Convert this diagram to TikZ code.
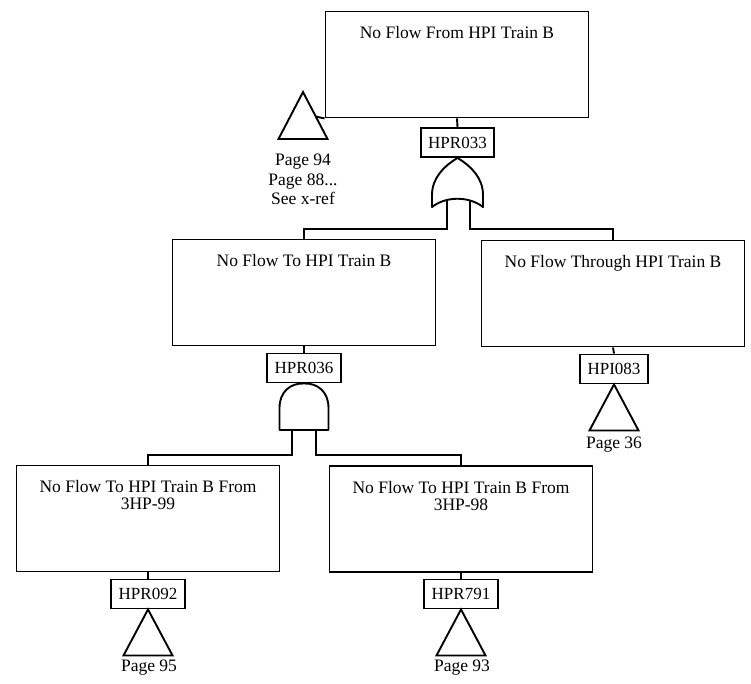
\documentclass[tikz,border=0pt]{standalone}
\usepackage{fontspec}
\setmainfont{Liberation Serif}
\usetikzlibrary{positioning}
\tikzset{
    % event boxes - text sits at the top
    event/.style={
        rectangle,
        draw=black,
        line width=1.9pt,
        minimum width=263pt,
        minimum height=106pt,
        inner sep=0pt
    },
    evtext/.style={
        anchor=north,
        yshift=-16pt,
        inner sep=0pt,
        align=center,
        font=\fontsize{17.5}{17}\selectfont
    },
    % gate id tags
    tag/.style={
        rectangle,
        draw=black,
        line width=1.9pt,
        minimum height=29pt,
        inner xsep=7.5pt,
        inner ysep=1pt,
        font=\fontsize{17}{18}\selectfont
    },
    gate/.style={
        draw=black,
        line width=1.9pt,
        fill=white,
        line join=round
    },
    xfer/.style={
        draw=black,
        line width=1.9pt,
        line join=miter
    },
    pagetext/.style={
        inner sep=0pt,
        align=center,
        font=\fontsize{17.5}{19.5}\selectfont
    },
    link/.style={
        draw=black,
        line width=1.9pt
    }
}
\begin{document}
\begin{tikzpicture}[x=1pt, y=-1pt]
    \useasboundingbox (0,0) rectangle (751,684);

    % top event
    \node[event, label={[evtext]north:No Flow From HPI Train B}] (top) at (457,64.5) {};
    \node[tag] (g033) at (457.5,142.5) {HPR033};

    % transfer to the other pages
    \coordinate (xref) at (303,92);
    \coordinate (xrefside) at (315.5,116.5);
    \draw[xfer] (xref) -- ++(-24.5,47) -- ++(49,0) -- cycle;
    \node[pagetext, anchor=north] (pg94) at (303,154) {Page 94\\Page 88...\\See x-ref};
    \draw[link] (xrefside) -- (top.south west);

    % second level
    \node[event, label={[evtext]north:No Flow To HPI Train B}] (midL) at (304,292.5) {};
    \node[event, label={[evtext]north:No Flow Through HPI Train B}] (midR) at (613,293.5) {};
    \node[tag] (g036) at (304,368) {HPR036};
    \node[tag] (g083) at (614,369) {HPI083};

    % third level
    \node[event, label={[evtext]north:No Flow To HPI Train B From\\3HP-99}] (botL) at (148,518.5) {};
    \node[event, label={[evtext]north:No Flow To HPI Train B From\\3HP-98}] (botR) at (461,519) {};
    \node[tag] (g092) at (148,594) {HPR092};
    \node[tag] (g791) at (461,594) {HPR791};

    % OR gate under HPR033
    \coordinate (or1) at (447,200);
    \coordinate (or2) at (470,200);
    \draw[link] (top.south) -- (g033.north);
    \draw[link] (or1) -- ++(0,29) -| (midL.north);
    \draw[link] (or2) -- ++(0,29) -| (midR.north);
    \draw[gate] (g033.south) .. controls (444,166) and (432,178) .. (432,195)
        -- (432,207) .. controls (446,196) and (469,196) .. (483,207)
        -- (483,195) .. controls (483,178) and (471,166) .. (g033.south) -- cycle;

    % AND gate under HPR036
    \coordinate (and1) at (292,430);
    \coordinate (and2) at (316,430);
    \draw[link] (midL.south) -- (g036.north);
    \draw[link] (and1) -- ++(0,25) -| (botL.north);
    \draw[link] (and2) -- ++(0,25) -| (botR.north);
    \draw[gate] (279.5,430) -- (279.5,408) .. controls (279.5,392) and (290,383) .. (g036.south)
        .. controls (318,383) and (328.5,392) .. (328.5,408) -- (328.5,430) -- cycle;

    % transfers below the tags
    \draw[link] (midR.south) -- (g083.north);
    \draw[xfer] (g083.south) -- ++(-24.5,46) -- ++(49,0) -- cycle;
    \node[pagetext] (pg36) at (614,445) {Page 36};

    \draw[link] (botL.south) -- (g092.north);
    \draw[xfer] (g092.south) -- ++(-24.5,46) -- ++(49,0) -- cycle;
    \node[pagetext] (pg95) at (149,668) {Page 95};

    \draw[link] (botR.south) -- (g791.north);
    \draw[xfer] (g791.south) -- ++(-24.5,46) -- ++(49,0) -- cycle;
    \node[pagetext] (pg93) at (462,668) {Page 93};
\end{tikzpicture}
\end{document}
